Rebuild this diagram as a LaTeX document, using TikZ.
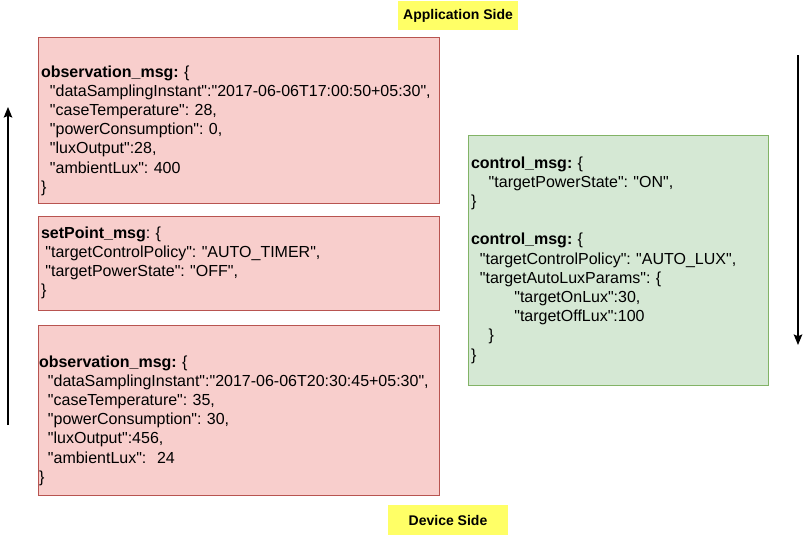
\documentclass[tikz,border=0pt]{standalone}
\usepackage{fontspec}
\setmainfont{Liberation Sans}[Ligatures=TeXOff]
\usetikzlibrary{arrows.meta}
\definecolor{redfill}{HTML}{F8CECC}
\definecolor{redline}{HTML}{B85450}
\definecolor{greenfill}{HTML}{D5E8D4}
\definecolor{greenline}{HTML}{82B366}
\definecolor{yellowfill}{HTML}{FFFF66}
\newcommand\ind[1]{\hspace*{#1}}
\frenchspacing
\begin{document}
\frenchspacing
\begin{tikzpicture}[x=0.75pt,y=-0.75pt,
  msgbox/.style={draw, line width=0.75pt, rectangle, inner xsep=2.25pt, inner ysep=0pt,
    align=left, font=\fontsize{12pt}{14.4pt}\selectfont},
  redbox/.style={msgbox, fill=redfill, draw=redline, text width=296.25pt, minimum width=300.75pt},
  greenbox/.style={msgbox, fill=greenfill, draw=greenline, text width=220.5pt, minimum width=225pt},
  sidelabel/.style={fill=yellowfill, inner sep=0pt, minimum width=90pt,
    font=\fontsize{10.5pt}{12.6pt}\selectfont\bfseries},
  flow/.style={line width=1pt, -{Stealth[length=8pt,width=6.5pt,inset=1.5pt]}}]
\useasboundingbox (0,0) rectangle (807,536);

\node[sidelabel, minimum height=21.75pt] (app) at (458,15.5) {Application Side};
\node[sidelabel, minimum height=22.5pt] (dev) at (448,520) {Device Side};

\node[redbox, minimum height=124.5pt] (obs1) at (238.5,120) {\strut\\
\textbf{observation\_msg:} \{\\
\ind{6.7pt}"dataSamplingInstant":"2017-06-06T17:00:50+05:30",\\
\ind{6.7pt}"caseTemperature": 28,\\
\ind{6.7pt}"powerConsumption": 0,\\
\ind{6.7pt}"luxOutput":28,\\
\ind{6.7pt}"ambientLux": 400\\
\}};

\node[redbox, minimum height=70.5pt] (setp) at (238.5,263) {\textbf{setPoint\_msg}: \{\\
\ind{3.35pt}"targetControlPolicy": "AUTO\_TIMER",\\
\ind{3.35pt}"targetPowerState": "OFF",\\
\}};

\node[redbox, minimum height=127.5pt, inner xsep=0.75pt, text width=299.25pt] (obs2) at (238.5,410) {\strut\\
\textbf{observation\_msg:} \{\\
\ind{6.7pt}"dataSamplingInstant":"2017-06-06T20:30:45+05:30",\\
\ind{6.7pt}"caseTemperature": 35,\\
\ind{6.7pt}"powerConsumption": 30,\\
\ind{6.7pt}"luxOutput":456,\\
\ind{6.7pt}"ambientLux":\ \ 24\\
\}};

\node[greenbox, minimum height=187.5pt] (ctrl) at (618,260) {\textbf{control\_msg:} \{\\
\ind{13.3pt}"targetPowerState": "ON",\\
\}\\
\strut\\
\textbf{control\_msg:} \{\\
\ind{6.7pt}"targetControlPolicy": "AUTO\_LUX",\\
\ind{6.7pt}"targetAutoLuxParams": \{\\
\ind{32.5pt}"targetOnLux":30,\\
\ind{32.5pt}"targetOffLux":100\\
\ind{13.3pt}\}\\
\}};

\coordinate (upstart) at (8,425);
\coordinate (upend) at (8,107);
\coordinate (downstart) at (798,55);
\coordinate (downend) at (798,345);
\draw[flow] (upstart) -- (upend);
\draw[flow] (downstart) -- (downend);
\end{tikzpicture}
\end{document}
